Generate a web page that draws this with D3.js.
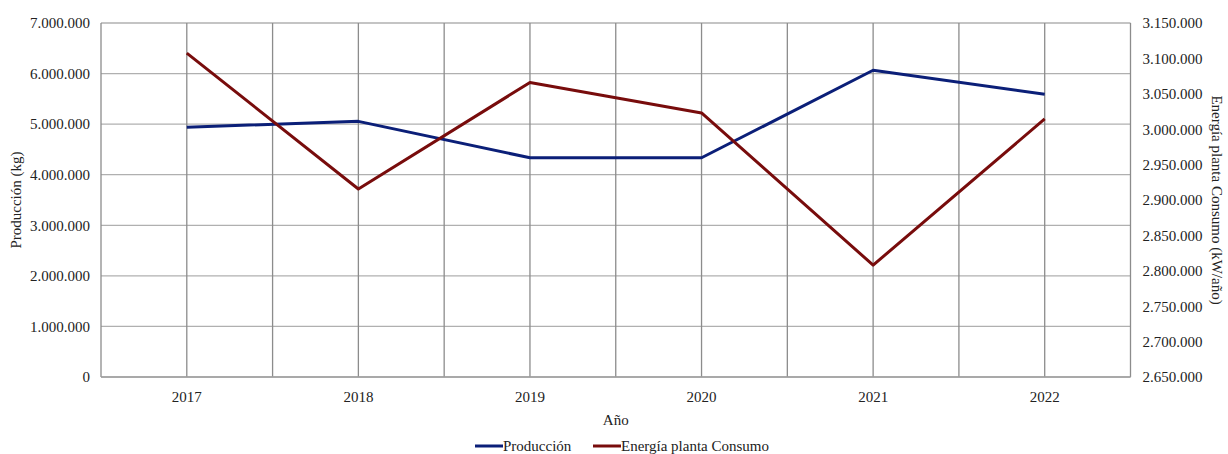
<!DOCTYPE html>
<html>
<head>
<meta charset="utf-8">
<script src="https://cdn.jsdelivr.net/npm/d3@7"></script>
<style>
  html, body { margin: 0; padding: 0; background: #fff; }
  svg { display: block; }
  svg text { font-family: "Times New Roman", "Liberation Serif", "DejaVu Serif", serif !important; fill: #222; }
</style>
</head>
<body>
<svg id="chart" width="1228" height="454"></svg>
<script>
const years = ["2017", "2018", "2019", "2020", "2021", "2022"];
const produccion = [4940000, 5055000, 4335000, 4335000, 6065000, 5590000];
const energia = [3107500, 2915500, 3066000, 3023000, 2808000, 3014500];
const leftTicks = [0, 1000000, 2000000, 3000000, 4000000, 5000000, 6000000, 7000000];
const rightTicks = [2650000, 2700000, 2750000, 2800000, 2850000, 2900000, 2950000, 3000000, 3050000, 3100000, 3150000];
const seriesNames = ["Producción", "Energía planta Consumo"];
const seriesColors = ["#0b1f78", "#780c0c"];

const svg = d3.select("#chart");
const L = 101, R = 1130.5, T = 23, B = 377;

const locale = d3.formatLocale({ decimal: ",", thousands: ".", grouping: [3], currency: ["", ""] });
const fmt = locale.format(",d");

const x = d3.scaleBand().domain(years).range([L, R]).padding(0);
const yL = d3.scaleLinear().domain([0, 7000000]).range([B, T]);
const yR = d3.scaleLinear().domain([2650000, 3150000]).range([B, T]);

const grid = svg.append("g");
grid.selectAll("line.h").data(leftTicks).join("line")
  .attr("x1", L).attr("x2", R)
  .attr("y1", d => yL(d)).attr("y2", d => yL(d))
  .attr("stroke", "#b0b0b0").attr("stroke-width", 1.3);
const vx = [];
years.forEach(y => { vx.push(x(y)); vx.push(x(y) + x.bandwidth() / 2); });
vx.push(R);
grid.selectAll("line.v").data(vx).join("line")
  .attr("x1", d => d).attr("x2", d => d)
  .attr("y1", T).attr("y2", B)
  .attr("stroke", "#8c8c8c").attr("stroke-width", 1.3);
grid.append("line").attr("x1", L).attr("x2", R).attr("y1", B).attr("y2", B)
  .attr("stroke", "#a0a0a0").attr("stroke-width", 1.5);

const axL = svg.append("g").attr("transform", `translate(${L},0)`)
  .call(d3.axisLeft(yL).tickValues(leftTicks).tickFormat(fmt).tickSize(0).tickPadding(11));
const axR = svg.append("g").attr("transform", `translate(${R},0)`)
  .call(d3.axisRight(yR).tickValues(rightTicks).tickFormat(fmt).tickSize(0).tickPadding(12));
const axB = svg.append("g").attr("transform", `translate(0,${B})`)
  .call(d3.axisBottom(x).tickSize(0).tickPadding(14));
[axL, axR, axB].forEach(a => {
  a.attr("font-family", null);
  a.select(".domain").remove();
  a.selectAll("text").attr("font-size", 15).attr("fill", "#222");
});

const lineL = d3.line().x((d, i) => x(years[i]) + x.bandwidth() / 2).y(d => yL(d));
const lineR = d3.line().x((d, i) => x(years[i]) + x.bandwidth() / 2).y(d => yR(d));
svg.append("path").datum(produccion).attr("d", lineL)
  .attr("fill", "none").attr("stroke", seriesColors[0]).attr("stroke-width", 3).attr("stroke-linejoin", "round");
svg.append("path").datum(energia).attr("d", lineR)
  .attr("fill", "none").attr("stroke", seriesColors[1]).attr("stroke-width", 3).attr("stroke-linejoin", "round");

svg.append("text").attr("transform", `translate(21,${(T + B) / 2}) rotate(-90)`)
  .attr("text-anchor", "middle").attr("font-size", 15).text("Producción (kg)");
svg.append("text").attr("transform", `translate(1212,${(T + B) / 2}) rotate(90)`)
  .attr("text-anchor", "middle").attr("font-size", 15).text("Energía planta Consumo (kW/año)");
svg.append("text").attr("x", (L + R) / 2).attr("y", 425)
  .attr("text-anchor", "middle").attr("font-size", 15).text("Año");

const legend = svg.append("g");
const legX = [475, 593];
seriesNames.forEach((n, i) => {
  legend.append("line").attr("x1", legX[i]).attr("x2", legX[i] + 28)
    .attr("y1", 446).attr("y2", 446)
    .attr("stroke", seriesColors[i]).attr("stroke-width", 3);
  legend.append("text").attr("x", legX[i] + 28).attr("y", 451)
    .attr("font-size", 15).text(n);
});
</script>
</body>
</html>
